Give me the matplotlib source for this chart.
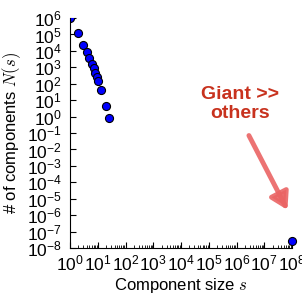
import numpy as np
import matplotlib.pyplot as plt
from matplotlib.ticker import LogLocator, NullLocator

plt.rcParams['font.family'] = ['Liberation Sans', 'DejaVu Sans']
plt.rcParams['mathtext.fontset'] = 'cm'

# component sizes and counts
sizes = [1, 2, 3, 4, 5, 6, 7, 8, 9, 10, 13, 19, 25]
counts = [1e6, 1.2e5, 2.2e4, 9e3, 3.5e3, 1.7e3, 8.5e2, 4.6e2, 2.6e2, 1.45e2, 41, 4.3, 0.8]
giant_size = [1e8]
giant_count = [2.6e-8]

fig = plt.figure(figsize=(3.02, 2.96), dpi=100)
ax = fig.add_axes([0.232, 0.162, 0.735, 0.777])

ax.plot(sizes, counts, 'o', color='#0000ff', mec='black', mew=0.8, ms=5.8)
ax.plot(giant_size, giant_count, 'o', color='#0000ff', mec='black', mew=0.8,
        ms=5.8, clip_on=False)

ax.set_xscale('log')
ax.set_yscale('log')
ax.set_xlim(1, 1e8)
ax.set_ylim(1e-8, 1e6)

ax.xaxis.set_major_locator(LogLocator(base=10, numticks=20))
ax.xaxis.set_minor_locator(LogLocator(base=10, subs=np.arange(2, 10), numticks=20))
ax.yaxis.set_major_locator(LogLocator(base=10, numticks=20))
ax.yaxis.set_minor_locator(NullLocator())

ax.tick_params(which='major', direction='in', length=4, width=0.8, labelsize=12.5)
ax.tick_params(axis='y', which='major', pad=6)
ax.tick_params(axis='x', which='major', pad=4)
ax.tick_params(which='minor', direction='in', length=2, width=0.6)
ax.spines['top'].set_visible(False)
ax.spines['right'].set_visible(False)

ax.set_xlabel('Component size $s$', fontsize=12, labelpad=2)
ax.set_ylabel('# of components $N(s)$', fontsize=12, labelpad=3)

# annotation
ax.text(0.766, 0.628, 'Giant >>\nothers', transform=ax.transAxes, ha='center', va='center',
        fontsize=14, fontweight='bold', color='#c8321e', linespacing=1.15)
ax.annotate('', xy=(0.985, 0.155), xytext=(0.80, 0.50), xycoords='axes fraction',
            arrowprops=dict(arrowstyle='-|>,head_length=1.0,head_width=0.6',
                            color='#ea6464', lw=3.5, alpha=0.9))

fig.savefig('out.png', dpi=100)
